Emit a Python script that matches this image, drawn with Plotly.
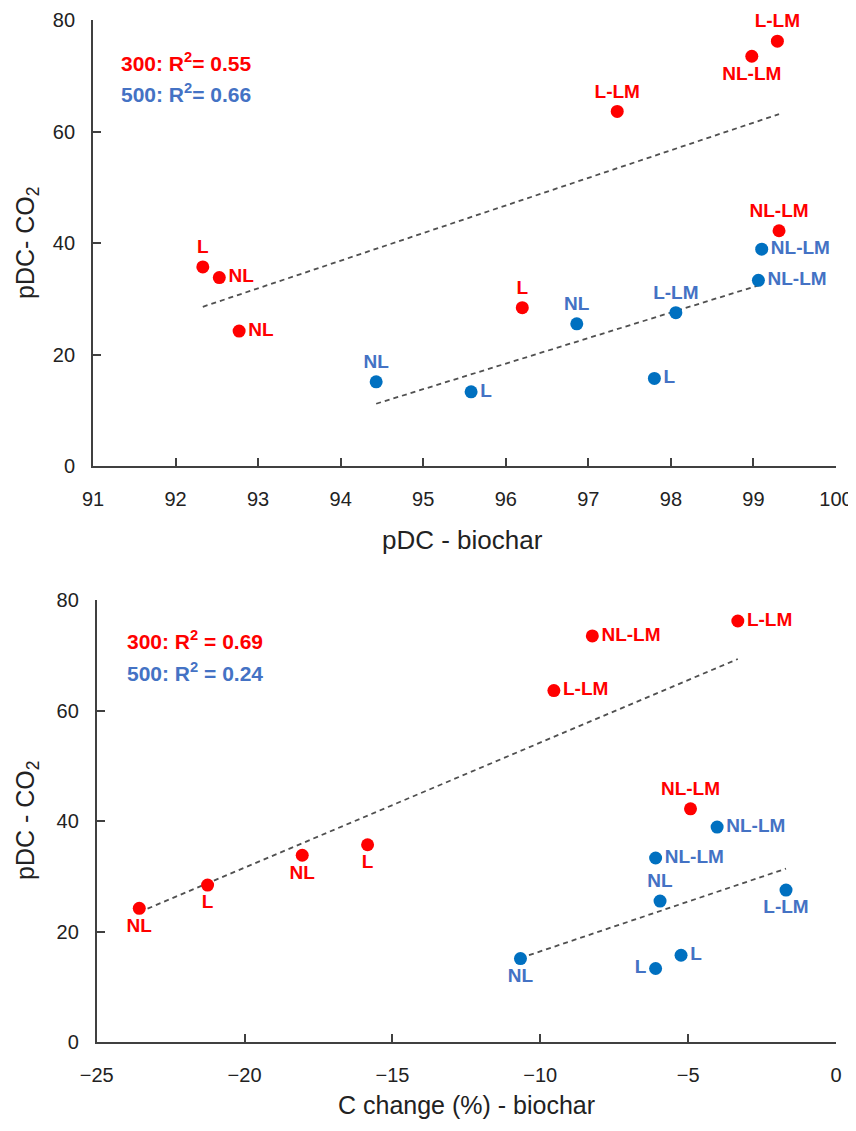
import numpy as np
import plotly.graph_objects as go

# ---------------- data ----------------
red_labels = ["L", "NL", "NL", "L", "L-LM", "NL-LM", "L-LM", "NL-LM"]
red_pdc_biochar = [92.33, 92.53, 92.77, 96.20, 97.35, 98.98, 99.29, 99.31]
red_c_change = [-15.84, -18.05, -23.56, -21.25, -9.54, -8.24, -3.32, -4.92]
red_pdc_co2 = [35.7, 33.8, 24.2, 28.4, 63.6, 73.5, 76.2, 42.2]

blue_labels = ["NL", "L", "NL", "L", "L-LM", "NL-LM", "NL-LM"]
blue_pdc_biochar = [94.43, 95.58, 96.86, 97.80, 98.06, 99.06, 99.10]
blue_c_change = [-10.67, -6.10, -5.95, -5.24, -1.69, -6.10, -4.02]
blue_pdc_co2 = [15.1, 13.3, 25.5, 15.7, 27.5, 33.3, 38.9]

top_r2 = ["300: R<sup>2</sup>= 0.55", "500: R<sup>2</sup>= 0.66"]
bot_r2 = ["300: R<sup>2</sup> = 0.69", "500: R<sup>2</sup> = 0.24"]

top_x_ticks = [91, 92, 93, 94, 95, 96, 97, 98, 99, 100]
bot_x_ticks = [-25, -20, -15, -10, -5, 0]
y_ticks = [0, 20, 40, 60, 80]

# label placement
top_red_pos = ["top center", "middle right", "middle right", "top center",
               "top center", "bottom center", "top center", "top center"]
top_blue_pos = ["top center", "middle right", "top center", "middle right",
                "top center", "middle right", "middle right"]
bot_red_pos = ["bottom center", "bottom center", "bottom center", "bottom center",
               "middle right", "middle right", "middle right", "top center"]
bot_blue_pos = ["bottom center", "middle left", "top center", "middle right",
                "bottom center", "middle right", "middle right"]

# ---------------- style ----------------
PAGE_OFF = 8            # default body margin of the html page
W, H = 856 - 2 * PAGE_OFF, 1131 - 2 * PAGE_OFF
RED = "#FF0000"
BLUE_M = "#0070C0"
BLUE_T = "#4472C4"
AX = "#404040"
TXT = "#222222"
FONT = "Liberation Sans"


def px_x(p):
    return (p - PAGE_OFF) / W


def px_y(p):
    return 1 - (p - PAGE_OFF) / H


fig = go.Figure()


def add_panel(xs_r, xs_b, xa, ya, pos_r, pos_b):
    for xs, ys, labels, pos, mc, tc in [
        (xs_r, red_pdc_co2, red_labels, pos_r, RED, RED),
        (xs_b, blue_pdc_co2, blue_labels, pos_b, BLUE_M, BLUE_T),
    ]:
        k, b = np.polyfit(xs, ys, 1)
        xl = np.array([min(xs), max(xs)])
        fig.add_trace(go.Scatter(
            x=xl, y=k * xl + b, mode="lines", xaxis=xa, yaxis=ya,
            line=dict(color="#505050", width=1.8, dash="5px,4px"),
            showlegend=False, hoverinfo="skip"))
        fig.add_trace(go.Scatter(
            x=xs, y=ys, mode="markers+text", xaxis=xa, yaxis=ya,
            text=labels, textposition=pos,
            textfont=dict(family=FONT, size=19, color=tc, weight="bold"),
            marker=dict(color=mc, size=13),
            cliponaxis=False, showlegend=False))


add_panel(red_pdc_biochar, blue_pdc_biochar, "x", "y", top_red_pos, top_blue_pos)
add_panel(red_c_change, blue_c_change, "x2", "y2", bot_red_pos, bot_blue_pos)

axis_common = dict(
    showline=True, linecolor=AX, linewidth=1.8, ticks="inside", ticklen=8,
    tickwidth=1.5, tickcolor=AX, showgrid=False, zeroline=False, automargin=False,
    ticklabeloverflow="allow",
    tickfont=dict(family=FONT, size=20, color=TXT),
)

fig.update_layout(
    width=W, height=H, margin=dict(l=0, r=0, t=0, b=0, autoexpand=False),
    paper_bgcolor="white", plot_bgcolor="white",
    xaxis=dict(domain=[px_x(93), px_x(836)], range=[91, 100], tickvals=top_x_ticks,
               anchor="y", ticklabelstandoff=14, **axis_common),
    yaxis=dict(domain=[px_y(466), px_y(20)], range=[0, 80], tickvals=y_ticks,
               anchor="x", ticklabelstandoff=12, **axis_common),
    xaxis2=dict(domain=[px_x(96.7), px_x(836)], range=[-25, 0], tickvals=bot_x_ticks,
                anchor="y2", ticklabelstandoff=14, **axis_common),
    yaxis2=dict(domain=[px_y(1042), px_y(600)], range=[0, 80], tickvals=y_ticks,
                anchor="x2", ticklabelstandoff=12, **axis_common),
)


def note(text, x, y, size, color, xanchor="center", angle=0, bold=False):
    return dict(text=text, x=px_x(x), y=px_y(y), xref="paper", yref="paper",
                xanchor=xanchor, yanchor="middle", textangle=angle, showarrow=False,
                font=dict(family=FONT, size=size, color=color,
                          weight="bold" if bold else "normal"))


ann = [
    note("pDC - biochar", 463, 540, 26, TXT),
    note("C change (%) - biochar", 467, 1105, 25, TXT),
    note("pDC- CO<sub>2</sub>", 27, 243, 25, TXT, angle=-90),
    note("pDC - CO<sub>2</sub>", 27, 821, 25, TXT, angle=-90),
    note(top_r2[0], 119, 62, 21, RED, xanchor="left", bold=True),
    note(top_r2[1], 119, 93, 21, BLUE_T, xanchor="left", bold=True),
    note(bot_r2[0], 125, 640, 21, RED, xanchor="left", bold=True),
    note(bot_r2[1], 125, 672, 21, BLUE_T, xanchor="left", bold=True),
]
fig.update_layout(annotations=ann)

fig.write_html("out.html")
